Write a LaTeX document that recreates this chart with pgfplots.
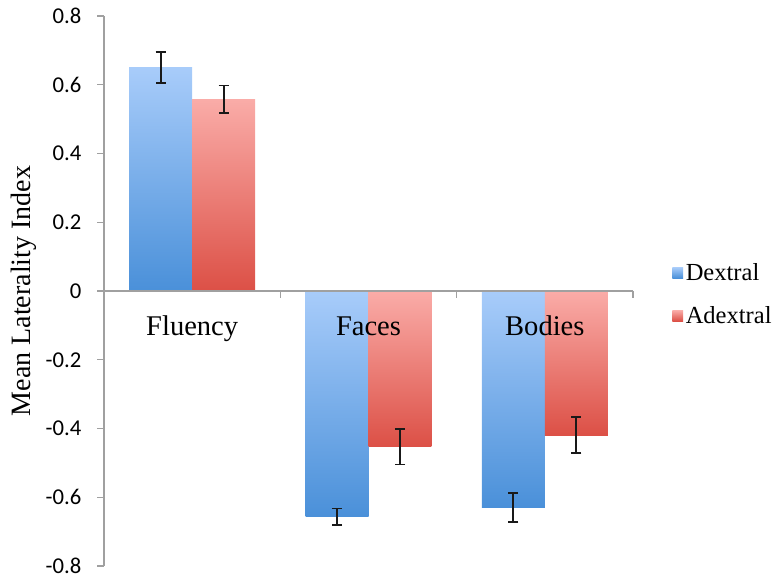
\documentclass[border=0pt]{standalone}
\usepackage{fontspec}
\setmainfont{Liberation Serif}
\newfontfamily\tickfont{Carlito}
\usepackage{pgfplots}
\pgfplotsset{compat=1.18}
\definecolor{bluetop}{RGB}{168,204,250}
\definecolor{bluebot}{RGB}{74,144,217}
\definecolor{redtop}{RGB}{250,172,168}
\definecolor{redbot}{RGB}{220,80,70}
\definecolor{axgray}{RGB}{160,160,160}
\pgfplotsset{
  errstyle/.style={error bars/y dir=both, error bars/y explicit,
    error bars/error bar style={black!90, line width=1.35pt},
    error bars/error mark options={rotate=90, mark size=3.8pt, black!90, line width=1.35pt}},
  dexbar/.style={ybar, bar width=0.357, bar shift=0pt, draw=none,
    top color=bluetop, bottom color=bluebot,
    legend image code/.code={\shade[top color=bluetop,bottom color=bluebot] (0pt,-3.5pt) rectangle (8pt,4.5pt);},
    errstyle},
  adexbar/.style={ybar, bar width=0.357, bar shift=0pt, draw=none,
    top color=redtop, bottom color=redbot,
    legend image code/.code={\shade[top color=redtop,bottom color=redbot] (0pt,-3.5pt) rectangle (8pt,4.5pt);},
    errstyle},
}
\begin{document}
\begin{tikzpicture}
\begin{axis}[
  scale only axis, width=396.75pt, height=412.5pt,
  xmin=-0.5, xmax=2.5, ymin=-0.8, ymax=0.8,
  axis y line=left, axis x line=middle, axis on top,
  hide obscured x ticks=false, hide obscured y ticks=false,
  axis line style={-, draw=axgray, line width=1pt},
  tick style={draw=axgray, line width=1pt},
  tick align=outside, major tick length=5pt,
  ytick={-0.8,-0.6,-0.4,-0.2,0,0.2,0.4,0.6,0.8},
  /pgf/number format/assume math mode=true,
  /pgf/number format/fixed, /pgf/number format/precision=1,
  yticklabel style={font=\tickfont\fontsize{17}{17}\selectfont, xshift=-8.5pt},
  xtick={-0.5,0.5,1.5,2.5}, xticklabels={},
  extra x ticks={0,1,2},
  extra x tick labels={Fluency,Faces,Bodies},
  extra x tick style={major tick length=0pt,
    xticklabel style={font=\fontsize{21.4}{21.4}\selectfont, anchor=base, yshift=-33.75pt}},
  ylabel={Mean Laterality Index},
  ylabel style={at={(axis description cs:-0.1512,0.5)}, anchor=center,
    font=\fontsize{21}{21}\selectfont},
  legend style={at={(axis description cs:1.074,0.493)}, anchor=west, draw=none, fill=none,
    font=\fontsize{18.4}{18.4}\selectfont, row sep=14pt, inner sep=0pt},
  legend cell align=left,
]
% Dextral
\addplot[dexbar] coordinates {(-0.1785,0.650) +- (0,0.045)};
\addlegendentry{Dextral}
% Adextral
\addplot[adexbar] coordinates {(0.1785,0.558) +- (0,0.040)};
\addlegendentry{Adextral}
\addplot[forget plot, dexbar] coordinates {(0.8215,-0.657) +- (0,0.024)};
\addplot[forget plot, adexbar] coordinates {(1.1785,-0.453) +- (0,0.052)};
\addplot[forget plot, dexbar] coordinates {(1.8215,-0.630) +- (0,0.043)};
\addplot[forget plot, adexbar] coordinates {(2.1785,-0.419) +- (0,0.053)};
\end{axis}
\pgfresetboundingbox
\path[use as bounding box] ([xshift=-78pt,yshift=-11.25pt]current axis.south west) rectangle ([xshift=108pt,yshift=12pt]current axis.north east);
\end{tikzpicture}
\end{document}
